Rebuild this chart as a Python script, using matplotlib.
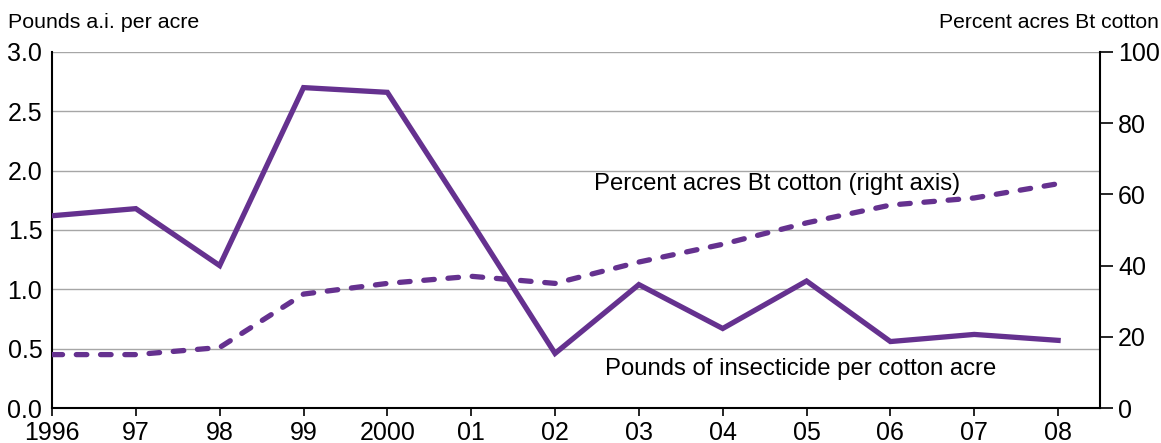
import matplotlib
matplotlib.use("Agg")
import matplotlib.pyplot as plt

plt.rcParams['font.family'] = ['Liberation Sans', 'DejaVu Sans']

years = [1996, 1997, 1998, 1999, 2000, 2001, 2002, 2003, 2004, 2005, 2006, 2007, 2008]
year_labels = ["1996", "97", "98", "99", "2000", "01", "02", "03", "04", "05", "06", "07", "08"]
insecticide = [1.62, 1.68, 1.20, 2.70, 2.66, 1.57, 0.46, 1.04, 0.67, 1.07, 0.56, 0.62, 0.57]
bt_percent = [15, 15, 17, 32, 35, 37, 35, 41, 46, 52, 57, 59, 63]
left_ticks = [0.0, 0.5, 1.0, 1.5, 2.0, 2.5, 3.0]
right_ticks = [0, 20, 40, 60, 80, 100]

purple = "#65318f"

fig = plt.figure(figsize=(11.61, 4.43), dpi=100)
ax = fig.add_axes([52/1161, 1-408/443, (1100-52)/1161, (408-52)/443])
ax2 = ax.twinx()

ax.set_ylim(0, 3.0)
ax2.set_ylim(0, 100)
ax.set_xlim(1996, 2008.5)

ax.set_yticks(left_ticks)
ax.set_yticklabels([f"{t:.1f}" for t in left_ticks], fontsize=18)
ax.tick_params(axis='y', length=0, pad=7)
ax.set_xticks(years)
ax.set_xticklabels(year_labels, fontsize=18)
ax.tick_params(axis='x', length=6, width=1.2, direction='out', pad=3)
ax2.set_yticks(right_ticks)
ax2.set_yticklabels([str(t) for t in right_ticks], fontsize=18)
ax2.tick_params(axis='y', length=9, width=1.2, direction='out', pad=4)

for t in left_ticks[1:]:
    ax.axhline(t, color="#a6a6a6", lw=1.0, zorder=0)

for a in (ax, ax2):
    a.spines['top'].set_visible(False)
for s in ('left', 'bottom'):
    ax.spines[s].set_linewidth(1.5)
ax.spines['right'].set_visible(False)
ax2.spines['left'].set_visible(False)
ax2.spines['bottom'].set_visible(False)
ax2.spines['right'].set_linewidth(1.5)

ax.plot(years, insecticide, color=purple, lw=3.8, solid_joinstyle='miter', zorder=3)
ax2.plot(years, bt_percent, color=purple, lw=3.8, linestyle=(0, (2.0, 2.6)),
         dash_capstyle='round', zorder=3)

ax.text(2002.47, 1.89, "Percent acres Bt cotton (right axis)", fontsize=17.2,
        va='center', ha='left')
ax.text(2002.6, 0.33, "Pounds of insecticide per cotton acre", fontsize=17.2,
        va='center', ha='left')

fig.text(8/1161, 1-22/443, "Pounds a.i. per acre", fontsize=15.4, va='center', ha='left')
fig.text(1159/1161, 1-22/443, "Percent acres Bt cotton", fontsize=15.2, va='center', ha='right')

fig.savefig("out.png", dpi=100)
